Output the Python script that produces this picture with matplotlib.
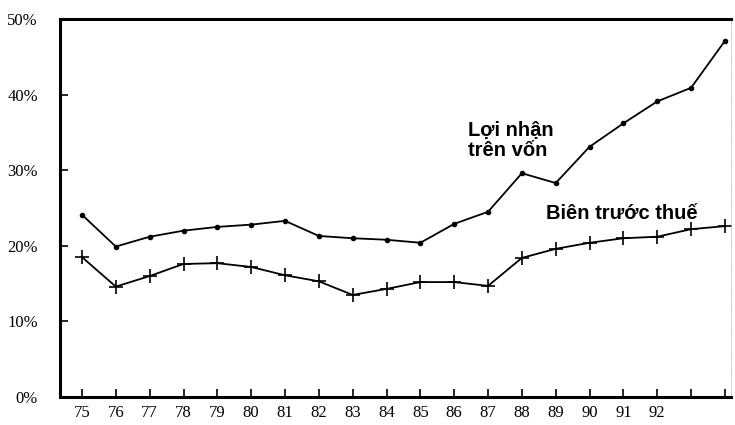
import matplotlib
matplotlib.use("Agg")
import matplotlib.pyplot as plt

# Năm (75..94), chỉ ghi nhãn đến 92
years = list(range(75, 95))
year_labels = [str(y) if y <= 92 else "" for y in years]

# Lợi nhuận trên vốn (%)
roe = [24.1, 19.9, 21.2, 22.0, 22.5, 22.8, 23.3, 21.3, 21.0, 20.8,
       20.4, 22.9, 24.5, 29.6, 28.3, 33.1, 36.2, 39.1, 40.9, 47.1]
# Biên trước thuế (%)
margin = [18.5, 14.6, 16.0, 17.6, 17.7, 17.2, 16.1, 15.3, 13.5, 14.3,
          15.2, 15.2, 14.7, 18.4, 19.6, 20.4, 21.0, 21.2, 22.2, 22.6]

y_ticks = [0, 10, 20, 30, 40, 50]
y_labels = ["0%", "10%", "20%", "30%", "40%", "50%"]

fig = plt.figure(figsize=(7.35, 4.25), dpi=100)
ax = fig.add_axes([60 / 735, 28 / 425, 671 / 735, 378 / 425])

ax.plot(years, roe, color="black", linewidth=1.3, marker="o", markersize=3)
ax.plot(years, margin, color="black", linewidth=1.3, marker="+",
        markersize=10, markeredgewidth=1.2)

ax.set_xlim(74.35, 94.18)
ax.set_ylim(0, 50)
ax.set_xticks(years)
ax.set_xticklabels(year_labels)
ax.set_yticks(y_ticks)
ax.set_yticklabels(y_labels)

serif = "Liberation Serif"
for lab in ax.get_xticklabels() + ax.get_yticklabels():
    lab.set_fontfamily(serif)
    lab.set_fontsize(12)

ax.tick_params(axis="x", direction="in", length=6, width=1.2, pad=6)
ax.tick_params(axis="y", direction="in", length=6, width=1.2, pad=16)

for side in ["left", "bottom", "top"]:
    ax.spines[side].set_linewidth(2.2)
ax.spines["right"].set_linewidth(0.6)
ax.spines["right"].set_color("#bbbbbb")
ax.spines["right"].set_linestyle(":")

ax.text(86.4, 33.9, "Lợi nhận\ntrên vốn", fontsize=14.5, fontweight="bold",
        family="Liberation Sans", ha="left", va="center", linespacing=1.1)
ax.text(88.7, 24.3, "Biên trước thuế", fontsize=14.5, fontweight="bold",
        family="Liberation Sans", ha="left", va="center")

fig.savefig("out.png", dpi=100)
